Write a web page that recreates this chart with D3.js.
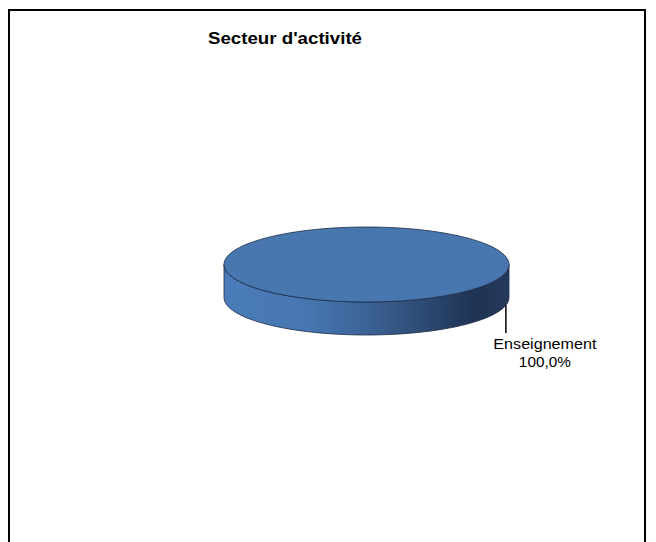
<!DOCTYPE html>
<html>
<head>
<meta charset="utf-8" />
<title>Secteur d'activité</title>
<style>
body { margin: 0; background: #fff; }
text { font-family: Arial, "Liberation Sans", sans-serif; fill: #000; }
</style>
</head>
<body>
<script src="https://d3js.org/d3.v7.min.js"></script>
<script>
// data
var categories = ["Enseignement"];
var values = [100];
var title = "Secteur d'activité";

var width = 656,
    height = 542;

// ellipse geometry of the 3d pie
var cx = 366.5, cy = 264.5,
    rx = 142.5, ry = 37.5,
    depth = 33;

var fr = d3.formatLocale({decimal: ",", thousands: " ", grouping: [3], currency: ["", " €"]});
var pct = fr.format(".1%");

var svg = d3.select("body").append("svg")
    .attr("width", width)
    .attr("height", height);

var defs = svg.append("defs");
var grad = defs.append("linearGradient")
    .attr("id", "side")
    .attr("gradientUnits", "userSpaceOnUse")
    .attr("x1", cx - rx).attr("x2", cx + rx)
    .attr("y1", 0).attr("y2", 0);
[[0, "#4a7cb9"], [0.28, "#4677b2"], [0.5, "#3c6396"], [0.7, "#2d4a73"], [0.88, "#1f3354"], [1, "#24395b"]]
  .forEach(function(s){ grad.append("stop").attr("offset", s[0]).attr("stop-color", s[1]); });

// chart border
svg.append("rect")
    .attr("x", 9).attr("y", 10)
    .attr("width", 636).attr("height", 600)
    .style("fill", "none")
    .style("stroke", "#000")
    .style("stroke-width", 2);

svg.append("text")
    .attr("x", 285).attr("y", 44)
    .attr("text-anchor", "middle")
    .attr("textLength", 154)
    .attr("lengthAdjust", "spacingAndGlyphs")
    .style("font-size", "16px")
    .style("font-weight", "bold")
    .text(title);

var total = d3.sum(values);
var pie = d3.pie().sort(null)(values);

// angle a: 0 at 12 o'clock, clockwise (d3 convention)
function px(a){ return cx + rx * Math.sin(a); }
function py(a){ return cy - ry * Math.cos(a); }

function topPath(d){
  var full = d.endAngle - d.startAngle >= 2 * Math.PI - 1e-6;
  var pts = d3.range(0, 121).map(function(i){
    var a = d.startAngle + (d.endAngle - d.startAngle) * i / 120;
    return [px(a), py(a)];
  });
  if (full) return "M" + pts.map(function(p){ return p.join(","); }).join("L") + "Z";
  return "M" + cx + "," + cy + "L" + pts.map(function(p){ return p.join(","); }).join("L") + "Z";
}

function sidePath(d){
  var a0 = Math.max(d.startAngle, Math.PI / 2),
      a1 = Math.min(d.endAngle, 3 * Math.PI / 2);
  if (a1 <= a0) return null;
  var up = d3.range(0, 61).map(function(i){
    var a = a0 + (a1 - a0) * i / 60;
    return [px(a), py(a)];
  });
  var down = up.slice().reverse().map(function(p){ return [p[0], p[1] + depth]; });
  return "M" + up.concat(down).map(function(p){ return p.join(","); }).join("L") + "Z";
}

var g = svg.append("g");

g.selectAll(".side")
  .data(pie.filter(function(d){ return sidePath(d); }))
  .enter().append("path")
    .attr("class", "side")
    .attr("d", sidePath)
    .style("fill", "url(#side)")
    .style("stroke", "#1c2b45")
    .style("stroke-width", 0.8);

g.selectAll(".top")
  .data(pie)
  .enter().append("path")
    .attr("class", "top")
    .attr("d", topPath)
    .style("fill", "#4877b0")
    .style("stroke", "#1c2b45")
    .style("stroke-width", 0.8);

// labels with leader line
var labelAngle = 102 * Math.PI / 180;
pie.forEach(function(d, i){
  var lx = px(labelAngle),
      ly = py(labelAngle) + depth;
  g.append("line")
    .attr("x1", lx).attr("y1", ly)
    .attr("x2", lx).attr("y2", 333)
    .style("stroke", "#000")
    .style("stroke-width", 1.5);
  var t = g.append("text")
    .attr("x", lx + 39)
    .attr("text-anchor", "middle")
    .style("font-size", "14px");
  t.append("tspan").attr("x", lx + 39).attr("y", 349)
    .attr("textLength", 103).attr("lengthAdjust", "spacingAndGlyphs")
    .text(categories[i]);
  t.append("tspan").attr("x", lx + 39).attr("y", 367)
    .attr("textLength", 52).attr("lengthAdjust", "spacingAndGlyphs")
    .text(pct(d.value / total));
});
</script>
</body>
</html>
